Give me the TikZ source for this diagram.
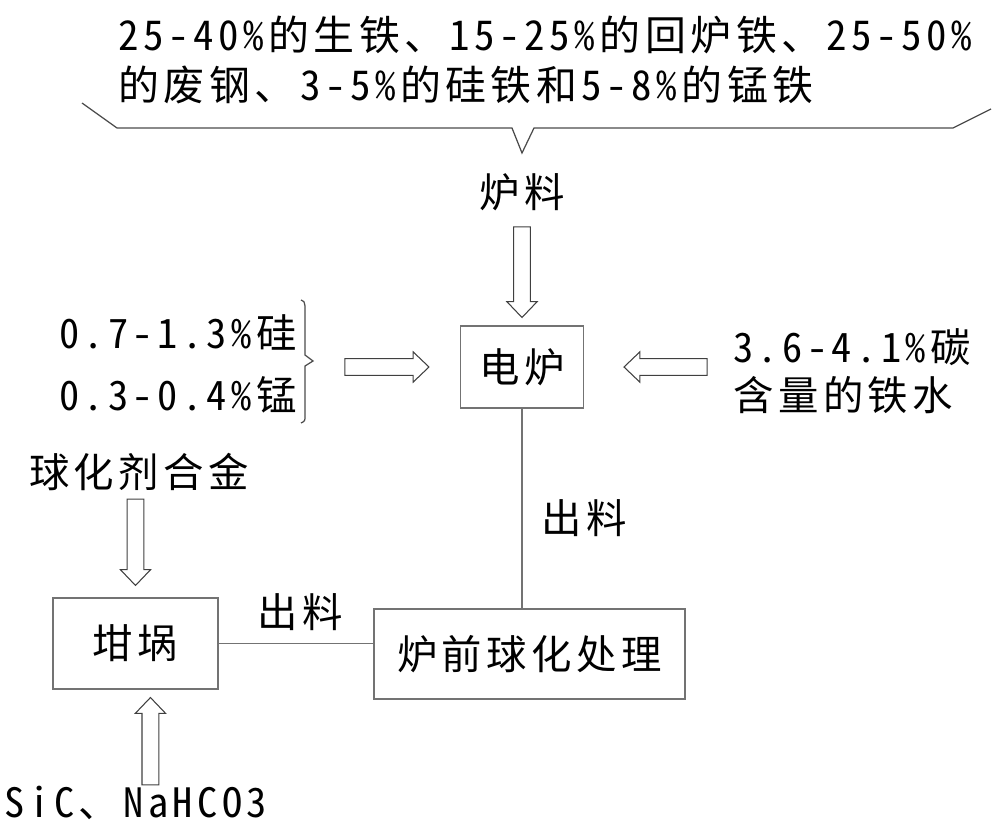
\documentclass[tikz,border=0pt]{standalone}
\usepackage{fontspec}
\setmainfont{Noto Sans CJK SC}[RawFeature=+hwid,LetterSpace=11]
\usetikzlibrary{calc,positioning}

% hollow block arrow: from, to, gap at start, gap at end
\newcommand{\fatarrow}[4]{%
  \coordinate (fs) at ($(#1)!#3!(#2)$);
  \coordinate (fe) at ($(#2)!#4!(#1)$);
  \coordinate (fa) at ($(fe)!9pt!(fs)$);
  \draw[fat arrow] ($(fs)!4.8pt!90:(fe)$) -- ($(fa)!4.8pt!90:(fe)$)
    -- ($(fa)!8.6pt!90:(fe)$) -- (fe) -- ($(fa)!8.6pt!-90:(fe)$)
    -- ($(fa)!4.8pt!-90:(fe)$) -- ($(fs)!4.8pt!-90:(fe)$) -- cycle;}

\begin{document}
\begin{tikzpicture}[x=0.02cm,y=-0.02cm,
  box node/.style={rectangle,draw=black!55,line width=0.7pt,
    font=\fontsize{23}{27}\selectfont},
  text node/.style={inner sep=0pt,font=\fontsize{23}{27}\selectfont},
  fat arrow/.style={draw=black!75,line width=0.6pt,fill=white,line join=miter},
  brace line/.style={draw=black!70,line width=0.7pt},
  link/.style={draw=black!55,line width=0.7pt}]

  \useasboundingbox (0,0) rectangle (1000,832);

  % raw materials
  \node[text node,align=left,anchor=west,
    font=\fontsize{23.3}{28.4}\selectfont] (feed) at (118,60)
    {25-40\%的生铁、15-25\%的回炉铁、25-50\%\\的废钢、3-5\%的硅铁和5-8\%的锰铁};
  \draw[brace line] (82,103) -- (117,128) -- (512,128) -- (522,153)
    -- (534,128) -- (953,128) -- (991,109);
  \node[text node] (LUL) at (522,192) {炉料};

  % furnace
  \node[box node,minimum width=2.46cm,minimum height=1.64cm] (DL) at (522,367) {电炉};
  \node[text node,anchor=east] (SI) at (297,332) {0.7-1.3\%硅};
  \node[text node,anchor=east] (MN) at (297,395) {0.3-0.4\%锰};
  \draw[brace line] (301,300) .. controls (304,301) .. (305,306) -- (305,355)
    -- (313,361) -- (305,366) -- (305,416) .. controls (305,421) .. (301,423);
  \coordinate (BRT) at (313,367);
  \node[text node,align=left,anchor=west] (TS) at (733,371)
    {3.6-4.1\%碳\\含量的铁水};

  % treatment
  \node[box node,minimum width=6.22cm,minimum height=1.8cm] (CQ) at (529.5,654) {炉前球化处理};
  \node[box node,minimum width=3.3cm,minimum height=1.82cm] (GW) at (135.5,643.5) {坩埚};
  \node[text node] (QJ) at (139,472) {球化剂合金};
  \node[text node] (SN) at (136,803) {SiC、NaHCO3};
  \coordinate (GWIN) at ([xshift=8.5pt]GW.south);

  \fatarrow{LUL.south}{DL.north}{9pt}{4.5pt}
  \fatarrow{BRT}{DL.west}{18.1pt}{17.6pt}
  \fatarrow{DL.east -| TS.west}{DL.east}{14.7pt}{22.7pt}
  \fatarrow{GW.north |- QJ.south}{GW.north}{4.5pt}{6.8pt}
  \fatarrow{GWIN |- SN.north}{GWIN}{0.6pt}{4.5pt}

  \draw[link] (DL.south) -- (DL.south |- CQ.north);
  \node[text node] (OUT1) at (584,518) {出料};
  \draw[link] (GW.east) -- (GW.east -| CQ.west);
  \node[text node] (OUT2) at (300,612) {出料};
\end{tikzpicture}
\end{document}
